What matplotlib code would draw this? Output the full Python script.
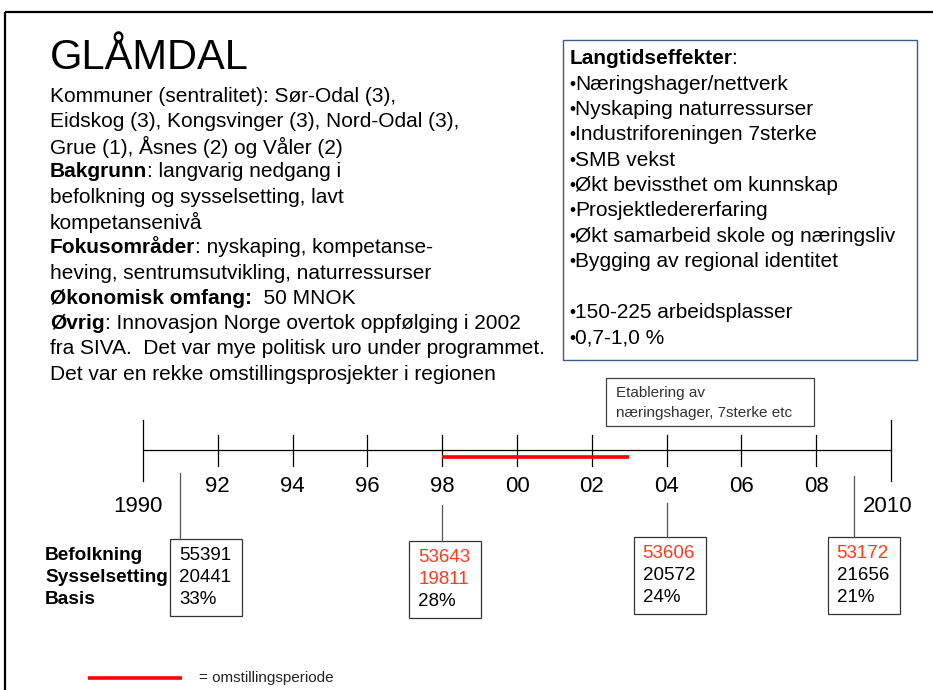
import matplotlib
matplotlib.use("Agg")
import matplotlib.pyplot as plt
from matplotlib.patches import Rectangle
from matplotlib import font_manager

FONT = "Liberation Sans"
names = {f.name for f in font_manager.fontManager.ttflist}
NARROW = "Liberation Sans Narrow" if "Liberation Sans Narrow" in names else FONT
plt.rcParams['font.family'] = [FONT, 'DejaVu Sans']

# --- data ---
title = "GLÅMDAL"
left_lines = [
    [("Kommuner (sentralitet): Sør-Odal (3),", False)],
    [("Eidskog (3), Kongsvinger (3), Nord-Odal (3),", False)],
    [("Grue (1), Åsnes (2) og Våler (2)", False)],
    [("Bakgrunn", True), (": langvarig nedgang i", False)],
    [("befolkning og sysselsetting, lavt", False)],
    [("kompetansenivå", False)],
    [("Fokusområder", True), (": nyskaping, kompetanse-", False)],
    [("heving, sentrumsutvikling, naturressurser", False)],
    [("Økonomisk omfang:", True), ("  50 MNOK", False)],
    [("Øvrig", True), (": Innovasjon Norge overtok oppfølging i 2002", False)],
    [("fra SIVA.  Det var mye politisk uro under programmet.", False)],
    [("Det var en rekke omstillingsprosjekter i regionen", False)],
]
effects_title = "Langtidseffekter"
effects = ["Næringshager/nettverk", "Nyskaping naturressurser",
           "Industriforeningen 7sterke", "SMB vekst",
           "Økt bevissthet om kunnskap", "Prosjektledererfaring",
           "Økt samarbeid skole og næringsliv", "Bygging av regional identitet",
           "", "150-225 arbeidsplasser", "0,7-1,0 %"]

start_year, end_year = 1990, 2010
tick_years = [1992, 1994, 1996, 1998, 2000, 2002, 2004, 2006, 2008]
tick_labels = ["92", "94", "96", "98", "00", "02", "04", "06", "08"]
period = (1998, 2003)
event_text = ["Etablering av", "næringshager, 7sterke etc"]

row_labels = ["Befolkning", "Sysselsetting", "Basis"]
box_years = [1991, 1998, 2004, 2009]
befolkning = [55391, 53643, 53606, 53172]
sysselsetting = [20441, 19811, 20572, 21656]
basis = ["33%", "28%", "24%", "21%"]
bef_red = [False, True, True, True]
sys_red = [False, True, False, False]

RED_TXT = "#ff3b1f"
RED = "#ff0000"

fig = plt.figure(figsize=(9.33, 6.90), dpi=100)
ax = fig.add_axes([0, 0, 1, 1])
ax.set_xlim(0, 933)
ax.set_ylim(690, 0)
ax.axis('off')

# slide frame
ax.plot([5, 933], [12, 12], color='black', lw=1.6, solid_capstyle='butt')
ax.plot([5, 5], [12, 690], color='black', lw=1.6, solid_capstyle='butt')

ax.text(50, 58, title, fontsize=30, va='center', ha='left')


def rich_line(x, y, parts, size, gap=0):
    prev = None
    for txt, bold in parts:
        w = 'bold' if bold else 'normal'
        if prev is None:
            prev = ax.text(x, y, txt, fontsize=size, fontweight=w, va='center', ha='left')
        else:
            prev = ax.annotate(txt, xy=(1, 0.5), xycoords=prev, xytext=(gap, 0),
                               textcoords='offset points', fontsize=size,
                               fontweight=w, va='center', ha='left')


for i, parts in enumerate(left_lines):
    rich_line(50, 96 + i * 25.3, parts, 15)

# effects box
ax.add_patch(Rectangle((563, 40), 354, 320, fill=False, edgecolor='#385d8a', lw=1.0))
rich_line(570, 59, [(effects_title, True), (":", False)], 15, gap=-1)
for i, e in enumerate(effects):
    if e:
        b = ax.text(569, 84 + i * 25.4, "•", fontsize=12.5, va='center', ha='left')
        ax.annotate(e, xy=(1, 0.5), xycoords=b, xytext=(0.3, 0),
                    textcoords='offset points', fontsize=15, va='center', ha='left')

# timeline axes in years
tl = fig.add_axes([143 / 933, 0, (891 - 143) / 933, 1])
tl.set_xlim(start_year, end_year)
tl.set_ylim(690, 0)
tl.axis('off')
px = (end_year - start_year) / (891 - 143)

tl.plot([start_year, end_year], [450, 450], color='black', lw=0.9, clip_on=False)
for yr in (start_year, end_year):
    tl.plot([yr, yr], [420, 481], color='black', lw=0.9, clip_on=False)
for yr, lab in zip(tick_years, tick_labels):
    tl.plot([yr, yr], [435, 466], color='black', lw=0.9, clip_on=False)
    tl.text(yr, 487, lab, fontsize=16, ha='center', va='center')
tl.text(start_year - 5 * px, 507, str(start_year), fontsize=16, ha='center', va='center')
tl.text(end_year - 3 * px, 507, str(end_year), fontsize=16, ha='center', va='center')
tl.plot(period, [457, 457], color=RED, lw=2.6, solid_capstyle='butt', clip_on=False)

# event box
tl.add_patch(Rectangle((1990 + (606 - 143) * px, 378), 208 * px, 48,
                       fill=False, edgecolor='#404040', lw=0.9, clip_on=False))
for i, t in enumerate(event_text):
    tl.text(1990 + (616 - 143) * px, 393 + i * 19.5, t, fontsize=11,
            family=NARROW, color='#333333', ha='left', va='center')

# data boxes
box_dx = [-10, -33, -33, -26]
box_top = [539, 541, 537, 537]
line_top = [473, 505, 503, 476]
for k, yr in enumerate(box_years):
    tl.plot([yr, yr], [line_top[k], box_top[k]], color='#555555', lw=0.9, clip_on=False)
    left = yr + box_dx[k] * px
    tl.add_patch(Rectangle((left, box_top[k]), 72 * px, 77, fill=False,
                           edgecolor='#333333', lw=0.9, clip_on=False))
    vals = [(str(befolkning[k]), bef_red[k]), (str(sysselsetting[k]), sys_red[k]),
            (basis[k], False)]
    for r, (v, red) in enumerate(vals):
        tl.text(left + 9 * px, box_top[k] + 16 + r * 22.5, v, fontsize=13.5,
                color=RED_TXT if red else 'black', ha='left', va='center')

for r, lab in enumerate(row_labels):
    ax.text(45, 555 + r * 22.5, lab, fontsize=13.7, fontweight='bold', va='center', ha='left')

# legend
ax.plot([88, 182], [678, 678], color=RED, lw=2.6, solid_capstyle='butt')
ax.text(199, 678, "= omstillingsperiode", fontsize=11, family=NARROW,
        color='#222222', va='center', ha='left')

fig.savefig("out.png", dpi=100)
